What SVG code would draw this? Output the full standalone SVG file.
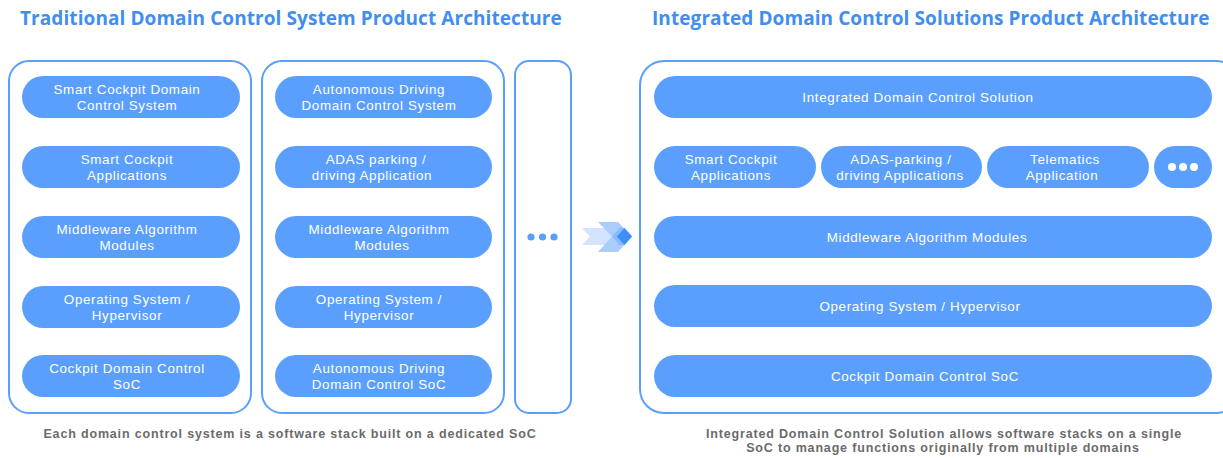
<svg xmlns="http://www.w3.org/2000/svg" width="1223" height="458" viewBox="0 0 1223 458">
  <style>
    .title { font-family: "Open Sans", "Liberation Sans", sans-serif; font-weight: 700; font-size: 19px; letter-spacing: 0.08px; fill: #3f8ef2; }
    .frame { fill: #ffffff; stroke: #5a9ffd; stroke-width: 2; }
    .pill { fill: #5a9ffd; }
    .lbl { font-family: "Liberation Sans", Arial, sans-serif; font-size: 13.4px; letter-spacing: 0.65px; fill: #ffffff; text-anchor: middle; }
    .cap { font-family: "Liberation Sans", Arial, sans-serif; font-weight: 700; font-size: 12.5px; letter-spacing: 0.83px; fill: #6b6b6b; text-anchor: middle; }
  </style>

  <text class="title" x="20" y="25">Traditional Domain Control System Product Architecture</text>
  <text class="title" x="652" y="25">Integrated Domain Control Solutions Product Architecture</text>

  <!-- Stack 1: smart cockpit -->
  <g id="stack-cockpit">
    <rect class="frame" x="9" y="61" width="242" height="352" rx="20"/>
    <g id="cockpit-system"><rect class="pill" x="22" y="76" width="218" height="42" rx="21"/>
      <text class="lbl" x="127" y="94">Smart Cockpit Domain</text><text class="lbl" x="127" y="109.5">Control System</text></g>
    <g id="cockpit-apps"><rect class="pill" x="22" y="146" width="218" height="42" rx="21"/>
      <text class="lbl" x="127" y="164">Smart Cockpit</text><text class="lbl" x="127" y="179.5">Applications</text></g>
    <g id="cockpit-middleware"><rect class="pill" x="22" y="216" width="218" height="42" rx="21"/>
      <text class="lbl" x="127" y="234">Middleware Algorithm</text><text class="lbl" x="127" y="249.5">Modules</text></g>
    <g id="cockpit-os"><rect class="pill" x="22" y="286" width="218" height="42" rx="21"/>
      <text class="lbl" x="127" y="304">Operating System /</text><text class="lbl" x="127" y="319.5">Hypervisor</text></g>
    <g id="cockpit-soc"><rect class="pill" x="22" y="355" width="218" height="42" rx="21"/>
      <text class="lbl" x="127" y="373">Cockpit Domain Control</text><text class="lbl" x="127" y="388.5">SoC</text></g>
  </g>

  <!-- Stack 2: autonomous driving -->
  <g id="stack-driving">
    <rect class="frame" x="262" y="61" width="242" height="352" rx="20"/>
    <g id="driving-system"><rect class="pill" x="275" y="76" width="217" height="42" rx="21"/>
      <text class="lbl" x="379" y="94">Autonomous Driving</text><text class="lbl" x="379" y="109.5">Domain Control System</text></g>
    <g id="driving-apps"><rect class="pill" x="275" y="146" width="217" height="42" rx="21"/>
      <text class="lbl" x="376" y="164">ADAS parking /</text><text class="lbl" x="372" y="179.5">driving Application</text></g>
    <g id="driving-middleware"><rect class="pill" x="275" y="216" width="217" height="42" rx="21"/>
      <text class="lbl" x="379" y="234">Middleware Algorithm</text><text class="lbl" x="382" y="249.5">Modules</text></g>
    <g id="driving-os"><rect class="pill" x="275" y="286" width="217" height="42" rx="21"/>
      <text class="lbl" x="379" y="304">Operating System /</text><text class="lbl" x="379" y="319.5">Hypervisor</text></g>
    <g id="driving-soc"><rect class="pill" x="275" y="355" width="217" height="42" rx="21"/>
      <text class="lbl" x="379" y="373">Autonomous Driving</text><text class="lbl" x="379" y="388.5">Domain Control SoC</text></g>
  </g>

  <!-- Stack 3: further domains -->
  <g id="stack-more">
    <rect class="frame" x="515" y="61" width="56" height="352" rx="14"/>
    <circle cx="531" cy="237" r="3.6" fill="#5a9ffd"/>
    <circle cx="542.5" cy="237" r="3.6" fill="#5a9ffd"/>
    <circle cx="554" cy="237" r="3.6" fill="#5a9ffd"/>
  </g>

  <!-- Transition arrow -->
  <g id="connectors">
    <polygon points="582,228 609,228 617,236.5 609,245 582,245 590,236.5" fill="#d3e5fe"/>
    <polygon points="598,222 618,222 632,236.5 618,252 598,252 612,236.5" fill="#a9cdfd"/>
    <polygon points="612,236.5 618,230 620,230 617,228 624,228 632,236.5 624,245 617,245 620,243 618,243" fill="#86b9fd"/>
    <polygon points="617,236.5 624.5,228 632,236.5 624.5,245" fill="#3d8ef7"/>
  </g>

  <!-- Integrated stack -->
  <g id="stack-integrated">
    <rect class="frame" x="640" y="61" width="600" height="352" rx="24"/>
    <g id="int-solution"><rect class="pill" x="654" y="76" width="558" height="42" rx="21"/>
      <text class="lbl" x="918" y="101.5">Integrated Domain Control Solution</text></g>
    <g id="int-cockpit-apps"><rect class="pill" x="654" y="146" width="162" height="42" rx="21"/>
      <text class="lbl" x="731" y="164">Smart Cockpit</text><text class="lbl" x="731" y="179.5">Applications</text></g>
    <g id="int-adas-apps"><rect class="pill" x="821" y="146" width="161" height="42" rx="21"/>
      <text class="lbl" x="901" y="164">ADAS-parking /</text><text class="lbl" x="900" y="179.5">driving Applications</text></g>
    <g id="int-telematics"><rect class="pill" x="987" y="146" width="162" height="42" rx="21"/>
      <text class="lbl" x="1065" y="164">Telematics</text><text class="lbl" x="1062" y="179.5">Application</text></g>
    <g id="int-more"><rect class="pill" x="1154" y="146" width="58" height="42" rx="21"/>
      <circle cx="1172" cy="167" r="4" fill="#ffffff"/>
      <circle cx="1183" cy="167" r="4" fill="#ffffff"/>
      <circle cx="1194" cy="167" r="4" fill="#ffffff"/></g>
    <g id="int-middleware"><rect class="pill" x="654" y="216" width="558" height="42" rx="21"/>
      <text class="lbl" x="927" y="241.5">Middleware Algorithm Modules</text></g>
    <g id="int-os"><rect class="pill" x="654" y="285" width="558" height="42" rx="21"/>
      <text class="lbl" x="920" y="310.5">Operating System / Hypervisor</text></g>
    <g id="int-soc"><rect class="pill" x="654" y="355" width="558" height="42" rx="21"/>
      <text class="lbl" x="925" y="380.5">Cockpit Domain Control SoC</text></g>
  </g>

  <text class="cap" x="290" y="438">Each domain control system is a software stack built on a dedicated SoC</text>
  <text class="cap" x="944" y="438">Integrated Domain Control Solution allows software stacks on a single</text>
  <text class="cap" x="943" y="452.2">SoC to manage functions originally from multiple domains</text>
</svg>
